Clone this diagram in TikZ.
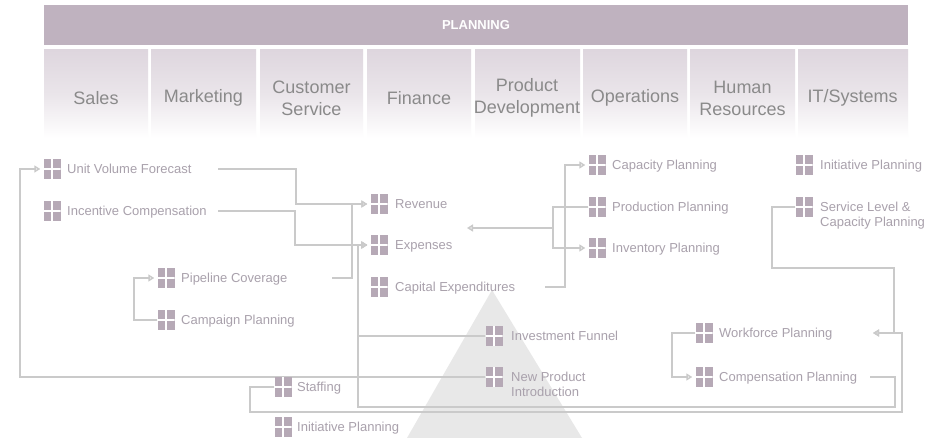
\documentclass[tikz,border=0pt]{standalone}
\usepackage{fontspec}
\setmainfont{Liberation Sans}
\usetikzlibrary{arrows.meta,calc}
\definecolor{bannerC}{HTML}{BFB2BF}
\definecolor{colTop}{HTML}{DED6DE}
\definecolor{colMid}{HTML}{EAE5EA}
\definecolor{iconC}{HTML}{B6A9B6}
\definecolor{lineC}{HTML}{CACACA}
\definecolor{itemC}{HTML}{A9A1AC}
\definecolor{headC}{HTML}{8A8A8A}
\definecolor{triC}{HTML}{E8E8E8}
\begin{document}
\begin{tikzpicture}[x=1pt,y=-1pt,
 icon/.style={fill=iconC,minimum width=17pt,minimum height=20pt,inner sep=0pt,
   path picture={\draw[white,line width=1.2pt] (path picture bounding box.north)--(path picture bounding box.south) (path picture bounding box.west)--(path picture bounding box.east);}},
 item/.style={anchor=west,inner sep=0pt,text=itemC,font=\fontsize{13}{15}\selectfont,text height=9.4pt,text depth=0pt},
 itemtwo/.style={anchor=north west,inner sep=0pt,text=itemC,font=\fontsize{13}{15}\selectfont,align=left},
 head/.style={text=headC,font=\fontsize{18}{22}\selectfont,align=center,inner sep=0pt},
 col/.style={top color=colTop,bottom color=white,middle color=colMid},
 conn/.style={draw=lineC,line width=1.5pt},
 arr/.style={-{Triangle[open,length=6pt,width=7pt]},shorten >=3pt},
]
\useasboundingbox (0,0) rectangle (931,438);
\fill[white] (0,0) rectangle (931,438);

% banner
\node[fill=bannerC,minimum width=864pt,minimum height=40pt,inner sep=0pt,
      text=white,font=\bfseries\fontsize{13}{15}\selectfont] (banner) at (476,25) {PLANNING};

% columns
\fill[col] (44,50) rectangle (148,138);
\fill[col] (151,50) rectangle (256,138);
\fill[col] (260,50) rectangle (363,138);
\fill[col] (367,50) rectangle (471,138);
\fill[col] (475,50) rectangle (580,138);
\fill[col] (583,50) rectangle (687,138);
\fill[col] (690,50) rectangle (795,138);
\fill[col] (798,50) rectangle (908,138);
\node[head] (hSales) at (96,98) {Sales};
\node[head] (hMkt) at (203.5,98) {Marketing};
\node[head] (hCS) at (311.5,98) {Customer\\Service};
\node[head] (hFin) at (419,98) {Finance};
\node[head] (hPD) at (527,98) {Product\\Development};
\node[head] (hOps) at (635,98) {Operations};
\node[head] (hHR) at (742.5,98) {Human\\Resources};
\node[head] (hIT) at (852.5,98) {IT/Systems};

% triangle
\fill[triC] (492,290) -- (582,438) -- (407,438) -- cycle;

% icons
\node[icon] (uvf) at (52,169) {};
\node[icon] (inc) at (52,211) {};
\node[icon] (pip) at (166,278) {};
\node[icon] (camp) at (166,320) {};
\node[icon] (rev) at (379,204) {};
\node[icon] (exp) at (379,245) {};
\node[icon] (capx) at (379,287) {};
\node[icon] (cap) at (597,165) {};
\node[icon] (prod) at (597,207) {};
\node[icon] (inv) at (597,248) {};
\node[icon] (initR) at (804,165) {};
\node[icon] (svc) at (804,207) {};
\node[icon] (invf) at (494,336) {};
\node[icon] (npi) at (494,377) {};
\node[icon] (wf) at (704,333) {};
\node[icon] (comp) at (704,377) {};
\node[icon] (staff) at (283,387) {};
\node[icon] (initB) at (283,427) {};

% texts
\node[item] (uvfT) at (67,169) {Unit Volume Forecast};
\node[item] (incT) at (67,211) {Incentive Compensation};
\node[item] (pipT) at (181,278) {Pipeline Coverage};
\node[item] (campT) at (181,320) {Campaign Planning};
\node[item] (revT) at (395,204) {Revenue};
\node[item] (expT) at (395,245) {Expenses};
\node[item] (capxT) at (395,287) {Capital Expenditures};
\node[item] (capT) at (612,165) {Capacity Planning};
\node[item] (prodT) at (612,207) {Production Planning};
\node[item] (invT) at (612,248) {Inventory Planning};
\node[item] (initRT) at (820,165) {Initiative Planning};
\node[itemtwo] (svcT) at (820,202.3) {Service Level \&\\Capacity Planning};
\node[item] (invfT) at (511,336) {Investment Funnel};
\node[itemtwo] (npiT) at (511,372.3) {New Product\\Introduction};
\node[item] (wfT) at (719,333) {Workforce Planning};
\node[item] (compT) at (719,377) {Compensation Planning};
\node[item] (staffT) at (297,387) {Staffing};
\node[item] (initBT) at (297,427) {Initiative Planning};

% free ends
\coordinate (uvfOut) at (218,169);
\coordinate (incOut) at (218,211);
\coordinate (pipOut) at (332,278);
\coordinate (capxOut) at (545,287);
\coordinate (compOut) at (870,377);
\coordinate (wfIn) at (870,333);
\coordinate (prodIn) at (464,228);
\coordinate (expBus) at (358,245);

% connectors
\path[conn,arr] (uvfOut) -- (296,169) |- (rev.west);
\path[conn,arr] (incOut) -- (295,211) |- (exp.west);
\path[conn,arr] (pipOut) -- (352,278) |- (rev.west);
\path[conn,arr] (invf.west) -| (expBus) -- (exp.west);
\path[conn,arr] (npi.west) -| (expBus) -- (exp.west);
\path[conn,arr] (npi.west) -- (20,377) |- (uvf.west);
\path[conn,arr] (compOut) -- (895,377) -- (895,407) -| (expBus) -- (exp.west);
\path[conn,arr] (staff.west) -- (250,387) -- (250,412) -- (902,412) |- (wfIn);
\path[conn,arr] (svc.west) -- (772,207) -- (772,268) -- (894,268) |- (wfIn);
\path[conn,arr] (wf.west) -- (672,333) |- (comp.west);
\path[conn,arr] (camp.west) -- (134,320) |- (pip.west);
\path[conn,arr] (capxOut) -- (565,287) |- (cap.west);
\path[conn,arr] (prod.west) -- (553,207) |- (inv.west);
\path[conn,arr] (prod.west) -- (553,207) |- (prodIn);

% redraw icons on top of lines
\foreach \n in {uvf,inc,pip,camp,rev,exp,capx,cap,prod,inv,initR,svc,invf,npi,wf,comp,staff,initB}
  \node[icon] at (\n) {};
\end{tikzpicture}
\end{document}
